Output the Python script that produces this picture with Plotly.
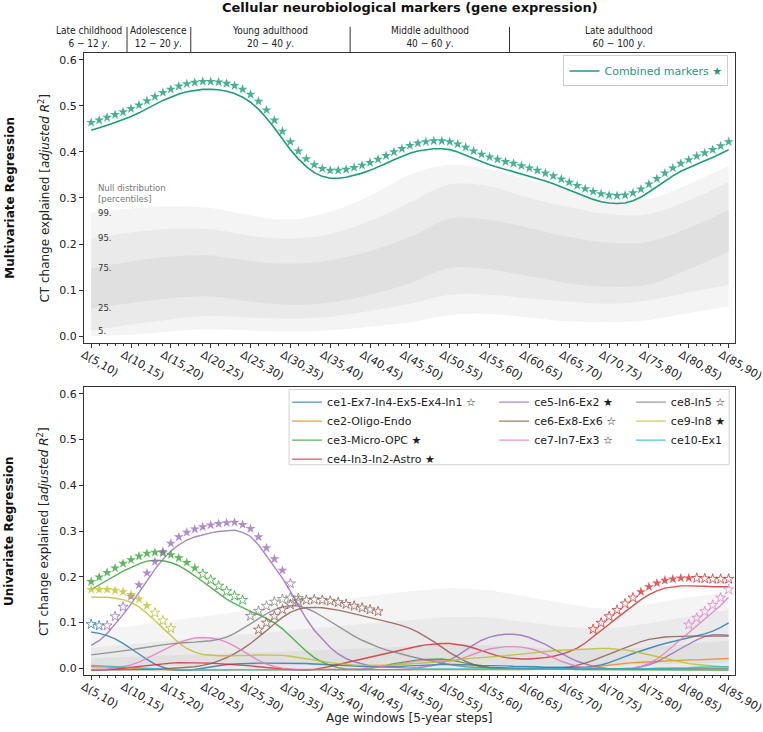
import plotly.graph_objects as go

# ---------------- data ----------------
window_starts = [5, 10, 15, 20, 25, 30, 35, 40, 45, 50, 55, 60, 65, 70, 75, 80, 85]
window_labels = [f"Δ({a},{a + 5})" for a in window_starts]
age_steps = list(range(81))          # 1-year steps, step 0 = Δ(5,10)
band_steps = list(range(0, 81, 5))   # null distribution sampled at window ticks

period_names = ["Late childhood", "Adolescence", "Young adulthood", "Middle adulthood", "Late adulthood"]
period_ages = ["6 − 12", "12 − 20", "20 − 40", "40 − 60", "60 − 100"]
period_edges_age = [12, 20, 40, 60]

combined = [0.447, 0.452, 0.458, 0.464, 0.470, 0.477, 0.485, 0.494, 0.503, 0.512,
            0.519, 0.526, 0.531, 0.534, 0.536, 0.536, 0.535, 0.532, 0.527, 0.519,
            0.508, 0.493, 0.474, 0.452, 0.428, 0.405, 0.385, 0.368, 0.355, 0.347,
            0.343, 0.343, 0.345, 0.349, 0.354, 0.360, 0.367, 0.375, 0.383, 0.390,
            0.397, 0.402, 0.405, 0.407, 0.407, 0.405, 0.400, 0.393, 0.385, 0.378,
            0.372, 0.367, 0.362, 0.358, 0.353, 0.348, 0.343, 0.337, 0.331, 0.324,
            0.317, 0.310, 0.303, 0.297, 0.292, 0.289, 0.288, 0.289, 0.294, 0.302,
            0.313, 0.325, 0.337, 0.348, 0.358, 0.366, 0.374, 0.381, 0.388, 0.396, 0.405]

# null distribution percentiles (multivariate)
top_p0 = [0.000, 0.003, 0.010, 0.015, 0.012, 0.010, 0.012, 0.020, 0.030, 0.045, 0.048, 0.040, 0.032, 0.030, 0.035, 0.050, 0.064]
top_p5 = [0.012, 0.025, 0.036, 0.044, 0.040, 0.038, 0.042, 0.055, 0.070, 0.090, 0.090, 0.082, 0.075, 0.070, 0.078, 0.095, 0.111]
top_p25 = [0.060, 0.072, 0.082, 0.086, 0.075, 0.068, 0.073, 0.090, 0.115, 0.148, 0.145, 0.130, 0.115, 0.107, 0.112, 0.145, 0.183]
top_p75 = [0.147, 0.162, 0.173, 0.175, 0.163, 0.157, 0.165, 0.185, 0.215, 0.255, 0.252, 0.235, 0.215, 0.203, 0.205, 0.235, 0.274]
top_p95 = [0.212, 0.225, 0.233, 0.232, 0.218, 0.212, 0.222, 0.250, 0.290, 0.330, 0.325, 0.300, 0.280, 0.265, 0.265, 0.295, 0.335]
top_p99 = [0.268, 0.277, 0.282, 0.278, 0.262, 0.253, 0.270, 0.305, 0.350, 0.372, 0.362, 0.340, 0.318, 0.300, 0.298, 0.330, 0.370]
percentile_labels = ["99.", "95.", "75.", "25.", "5."]

# null distribution percentiles (univariate)
bot_p0 = [-0.006] * 17
bot_p5 = [-0.003, -0.003, -0.003, -0.002, -0.002, -0.002, -0.002, -0.002, -0.001, -0.001, -0.001, -0.002, -0.002, -0.002, -0.001, 0.000, 0.001]
bot_p25 = [0.004, 0.004, 0.005, 0.005, 0.005, 0.006, 0.006, 0.007, 0.008, 0.009, 0.008, 0.007, 0.006, 0.006, 0.008, 0.010, 0.012]
bot_p75 = [0.022, 0.025, 0.028, 0.031, 0.034, 0.037, 0.040, 0.044, 0.048, 0.052, 0.050, 0.045, 0.040, 0.040, 0.046, 0.053, 0.060]
bot_p95 = [0.045, 0.052, 0.060, 0.068, 0.075, 0.083, 0.090, 0.098, 0.105, 0.112, 0.110, 0.100, 0.090, 0.087, 0.098, 0.113, 0.128]
bot_p99 = [0.080, 0.092, 0.104, 0.115, 0.127, 0.137, 0.147, 0.158, 0.168, 0.175, 0.170, 0.155, 0.140, 0.130, 0.140, 0.155, 0.165]

ce1 = [0.079, 0.076, 0.071, 0.064, 0.054, 0.043, 0.031, 0.019, 0.009, 0.002, -0.003,
       -0.005, -0.005, -0.003, 0.000, 0.003, 0.006, 0.008, 0.009, 0.010, 0.011,
       0.011, 0.011, 0.011, 0.011, 0.011, 0.010, 0.010, 0.009, 0.008, 0.007,
       0.006, 0.005, 0.004, 0.003, 0.003, 0.003, 0.003, 0.003, 0.004, 0.005,
       0.006, 0.007, 0.008, 0.008, 0.008, 0.008, 0.007, 0.007, 0.006, 0.006,
       0.005, 0.005, 0.004, 0.004, 0.003, 0.003, 0.002, 0.002, 0.001, 0.001,
       0.001, 0.002, 0.004, 0.007, 0.012, 0.018, 0.025, 0.032, 0.038, 0.044,
       0.049, 0.054, 0.058, 0.062, 0.066, 0.070, 0.075, 0.081, 0.089, 0.099]
ce2 = [0.003, 0.003, 0.002, 0.002, 0.001, 0.000, -0.001, -0.002, -0.003, -0.004, -0.004,
       -0.004, -0.004, -0.004, -0.004, -0.004, -0.004, -0.004, -0.004, -0.004, -0.004,
       -0.004, -0.004, -0.004, -0.004, -0.004, -0.004, -0.004, -0.004, -0.004, -0.004,
       -0.004, -0.004, -0.004, -0.004, -0.004, -0.004, -0.004, -0.004, -0.004, -0.004,
       -0.003, -0.003, -0.003, -0.003, -0.003, -0.003, -0.003, -0.003, -0.003, -0.003,
       -0.003, -0.003, -0.003, -0.003, -0.003, -0.002, -0.002, -0.002, -0.002, -0.002,
       -0.001, 0.001, 0.003, 0.005, 0.007, 0.009, 0.011, 0.012, 0.013, 0.014,
       0.015, 0.016, 0.017, 0.017, 0.018, 0.018, 0.019, 0.019, 0.020, 0.021]
ce3 = [0.172, 0.182, 0.192, 0.202, 0.212, 0.220, 0.228, 0.234, 0.236, 0.235, 0.231,
       0.224, 0.214, 0.202, 0.189, 0.176, 0.163, 0.151, 0.141, 0.132, 0.124,
       0.117, 0.109, 0.099, 0.086, 0.070, 0.053, 0.037, 0.023, 0.013, 0.006,
       0.001, -0.002, -0.003, -0.003, -0.001, 0.002, 0.006, 0.010, 0.013, 0.016,
       0.018, 0.019, 0.020, 0.020, 0.018, 0.015, 0.011, 0.007, 0.004, 0.002,
       0.001, 0.000, 0.000, -0.001, -0.001, -0.001, -0.002, -0.002, -0.002, -0.002,
       -0.003, -0.003, -0.003, -0.003, -0.003, -0.003, -0.003, -0.003, -0.003, -0.003,
       -0.003, -0.003, -0.004, -0.004, -0.004, -0.004, -0.004, -0.004, -0.004, -0.004]
ce4 = [-0.004, -0.004, -0.003, -0.002, 0.000, 0.002, 0.004, 0.006, 0.008, 0.010, 0.011,
       0.012, 0.012, 0.012, 0.012, 0.011, 0.010, 0.009, 0.008, 0.007, 0.005,
       0.003, 0.001, 0.000, -0.002, -0.003, -0.004, -0.004, -0.003, 0.000, 0.004,
       0.008, 0.012, 0.017, 0.021, 0.025, 0.029, 0.032, 0.036, 0.040, 0.044,
       0.048, 0.051, 0.053, 0.054, 0.054, 0.052, 0.049, 0.044, 0.038, 0.032,
       0.027, 0.023, 0.021, 0.020, 0.020, 0.021, 0.023, 0.026, 0.030, 0.036,
       0.044, 0.055, 0.068, 0.082, 0.096, 0.110, 0.124, 0.137, 0.150, 0.161,
       0.169, 0.175, 0.178, 0.180, 0.180, 0.180, 0.179, 0.178, 0.178, 0.178]
ce5 = [0.050, 0.060, 0.076, 0.096, 0.117, 0.140, 0.165, 0.191, 0.216, 0.238, 0.256,
       0.270, 0.280, 0.287, 0.292, 0.296, 0.299, 0.301, 0.302, 0.297, 0.288,
       0.270, 0.246, 0.222, 0.197, 0.168, 0.138, 0.108, 0.083, 0.063, 0.045,
       0.031, 0.021, 0.014, 0.009, 0.005, 0.003, 0.002, 0.001, 0.000, 0.000,
       0.001, 0.003, 0.006, 0.011, 0.018, 0.028, 0.040, 0.051, 0.061, 0.068,
       0.072, 0.074, 0.074, 0.072, 0.067, 0.060, 0.052, 0.042, 0.032, 0.023,
       0.015, 0.009, 0.004, 0.001, -0.001, -0.001, -0.001, 0.000, 0.003, 0.007,
       0.014, 0.023, 0.033, 0.043, 0.053, 0.062, 0.069, 0.073, 0.073, 0.072]
ce6 = [-0.004, -0.004, -0.004, -0.004, -0.004, -0.004, -0.004, -0.003, -0.003, -0.002, -0.001,
       0.000, 0.001, 0.003, 0.006, 0.010, 0.016, 0.023, 0.032, 0.042, 0.054,
       0.067, 0.082, 0.097, 0.111, 0.122, 0.129, 0.132, 0.133, 0.132, 0.130,
       0.127, 0.123, 0.119, 0.115, 0.111, 0.107, 0.103, 0.098, 0.093, 0.087,
       0.079, 0.069, 0.058, 0.046, 0.034, 0.024, 0.015, 0.008, 0.003, 0.001,
       0.000, 0.000, 0.000, 0.000, 0.000, 0.000, 0.000, 0.000, 0.000, 0.002,
       0.006, 0.011, 0.017, 0.024, 0.031, 0.038, 0.045, 0.052, 0.058, 0.063,
       0.066, 0.068, 0.069, 0.070, 0.070, 0.070, 0.070, 0.070, 0.070, 0.070]
ce7 = [-0.003, -0.003, -0.002, 0.000, 0.003, 0.007, 0.013, 0.021, 0.030, 0.039, 0.048,
       0.056, 0.062, 0.066, 0.067, 0.066, 0.063, 0.057, 0.048, 0.038, 0.027,
       0.017, 0.009, 0.003, 0.000, -0.002, -0.003, -0.003, -0.003, -0.003, -0.003,
       -0.003, -0.003, -0.002, -0.001, 0.000, 0.002, 0.005, 0.008, 0.011, 0.014,
       0.016, 0.017, 0.017, 0.016, 0.015, 0.018, 0.024, 0.031, 0.037, 0.042,
       0.045, 0.047, 0.047, 0.046, 0.043, 0.038, 0.031, 0.023, 0.015, 0.009,
       0.004, 0.001, -0.001, -0.002, -0.002, -0.002, -0.001, 0.000, 0.004, 0.010,
       0.020, 0.033, 0.048, 0.063, 0.078, 0.093, 0.107, 0.121, 0.137, 0.155]
ce8 = [0.029, 0.031, 0.033, 0.035, 0.037, 0.040, 0.043, 0.046, 0.049, 0.051, 0.053,
       0.055, 0.056, 0.057, 0.058, 0.060, 0.063, 0.068, 0.076, 0.086, 0.097,
       0.108, 0.119, 0.128, 0.134, 0.137, 0.136, 0.131, 0.123, 0.113, 0.102,
       0.091, 0.080, 0.070, 0.061, 0.053, 0.046, 0.040, 0.035, 0.030, 0.026,
       0.022, 0.018, 0.014, 0.011, 0.008, 0.005, 0.003, 0.002, 0.001, 0.000,
       0.000, -0.001, -0.001, -0.001, -0.001, -0.001, -0.001, -0.001, -0.001, -0.001,
       -0.001, -0.001, -0.001, -0.001, -0.001, -0.001, -0.001, -0.001, -0.001, -0.001,
       -0.001, -0.001, -0.001, -0.001, -0.001, -0.001, -0.001, -0.001, -0.001, -0.001]
ce9 = [0.155, 0.155, 0.155, 0.153, 0.150, 0.144, 0.134, 0.120, 0.104, 0.087, 0.070,
       0.055, 0.043, 0.035, 0.030, 0.028, 0.027, 0.027, 0.027, 0.028, 0.028,
       0.029, 0.029, 0.029, 0.028, 0.026, 0.023, 0.020, 0.017, 0.014, 0.012,
       0.010, 0.008, 0.007, 0.006, 0.006, 0.006, 0.006, 0.007, 0.008, 0.009,
       0.010, 0.011, 0.013, 0.015, 0.017, 0.019, 0.020, 0.022, 0.023, 0.024,
       0.026, 0.027, 0.029, 0.031, 0.033, 0.035, 0.037, 0.038, 0.039, 0.040,
       0.041, 0.042, 0.043, 0.043, 0.043, 0.042, 0.040, 0.037, 0.033, 0.029,
       0.025, 0.021, 0.017, 0.013, 0.010, 0.008, 0.006, 0.004, 0.003, 0.003]
ce10 = [0.006, 0.005, 0.004, 0.003, 0.002, 0.001, 0.000, -0.001, -0.002, -0.003, -0.004,
        -0.004, -0.004, -0.004, -0.004, -0.004, -0.004, -0.004, -0.004, -0.004, -0.004,
        -0.004, -0.004, -0.004, -0.004, -0.004, -0.004, -0.004, -0.004, -0.004, -0.004,
        -0.003, -0.003, -0.003, -0.003, -0.003, -0.003, -0.003, -0.003, -0.003, -0.003,
        -0.002, -0.002, -0.002, -0.002, -0.002, -0.002, -0.002, -0.002, -0.002, -0.002,
        -0.002, -0.002, -0.002, -0.002, -0.002, -0.002, -0.002, -0.002, -0.002, -0.002,
        -0.001, -0.001, -0.001, -0.001, -0.001, -0.001, -0.001, -0.001, -0.001, -0.001,
        0.000, 0.000, 0.001, 0.001, 0.001, 0.002, 0.002, 0.002, 0.003, 0.003]

series_values = [ce1, ce2, ce3, ce4, ce5, ce6, ce7, ce8, ce9, ce10]
series_names = ["ce1-Ex7-In4-Ex5-Ex4-In1 ☆", "ce2-Oligo-Endo", "ce3-Micro-OPC ★", "ce4-In3-In2-Astro ★",
                "ce5-In6-Ex2 ★", "ce6-Ex8-Ex6 ☆", "ce7-In7-Ex3 ☆",
                "ce8-In5 ☆", "ce9-In8 ★", "ce10-Ex1"]
series_colors = ["#1f77b4", "#ff7f0e", "#2ca02c", "#d62728", "#9467bd",
                 "#8c564b", "#e377c2", "#7f7f7f", "#bcbd22", "#17becf"]
# significance stars: ranges of age steps (inclusive)
stars_filled = [[], [], [(0, 13)], [(69, 75)], [(5, 24)], [], [], [], [(0, 7)], []]
stars_open = [[(0, 1)], [], [(14, 19)], [(63, 68), (76, 80)], [(2, 4), (25, 25)],
              [(21, 36)], [(75, 80)], [(20, 26)], [(8, 10)], []]
legend_columns = [0, 0, 0, 0, 1, 1, 1, 2, 2, 2]

TEAL = "#1b9e77"
STAR_OFFSET = 0.017
STAR_SIZE = 7.5
FONT = "DejaVu Sans"

# ---------------- figure ----------------
fig = go.Figure()


def add_bands(xa, ya, p0, p5, p25, p75, p95, p99):
    shades = ["#f4f4f4", "#eaeaea", "#e0e0e0"]
    pairs = [(p0, p99), (p5, p95), (p25, p75)]
    for (lo, hi), col in zip(pairs, shades):
        fig.add_trace(go.Scatter(x=band_steps, y=lo, mode="lines", line=dict(width=0, shape="spline"),
                                 xaxis=xa, yaxis=ya, showlegend=False, hoverinfo="skip"))
        fig.add_trace(go.Scatter(x=band_steps, y=hi, mode="lines", line=dict(width=0, shape="spline"),
                                 fill="tonexty", fillcolor=col, xaxis=xa, yaxis=ya,
                                 showlegend=False, hoverinfo="skip"))


add_bands("x", "y", top_p0, top_p5, top_p25, top_p75, top_p95, top_p99)
add_bands("x2", "y2", bot_p0, bot_p5, bot_p25, bot_p75, bot_p95, bot_p99)

# multivariate
fig.add_trace(go.Scatter(x=age_steps, y=combined, mode="lines", line=dict(color=TEAL, width=1.6),
                         name="Combined markers ★", xaxis="x", yaxis="y", legend="legend"))
fig.add_trace(go.Scatter(x=age_steps, y=[v + STAR_OFFSET for v in combined], mode="markers",
                         marker=dict(symbol="star", size=STAR_SIZE, color=TEAL, opacity=0.8, line=dict(width=0)),
                         xaxis="x", yaxis="y", showlegend=False))

# univariate lines
legend_ids = ["legend2", "legend3", "legend4"]
for vals, name, col, leg in zip(series_values, series_names, series_colors, legend_columns):
    fig.add_trace(go.Scatter(x=age_steps, y=vals, mode="lines", line=dict(color=col, width=1.4),
                             opacity=0.8, name=name, xaxis="x2", yaxis="y2", legend=legend_ids[leg]))

for vals, col, filled, opened in zip(series_values, series_colors, stars_filled, stars_open):
    for ranges, sym in ((filled, "star"), (opened, "star-open")):
        xs, ys = [], []
        for a, b in ranges:
            for k in range(a, b + 1):
                xs.append(age_steps[k])
                ys.append(vals[k] + STAR_OFFSET)
        if xs:
            fig.add_trace(go.Scatter(x=xs, y=ys, mode="markers",
                                     marker=dict(symbol=sym, size=STAR_SIZE, color=col, opacity=0.75,
                                                 line=dict(color=col, width=1 if sym == "star-open" else 0)),
                                     xaxis="x2", yaxis="y2", showlegend=False))

# ---------------- axes ----------------
axis_common = dict(showline=True, linecolor="#333", linewidth=1, mirror=True, showgrid=False,
                   zeroline=False, ticks="outside", tickcolor="#333", ticklen=4, automargin=False,
                   tickfont=dict(family=FONT, size=11, color="#222"))
xcommon = dict(axis_common, range=[-0.9, 80.8], tickmode="array", tickvals=band_steps,
               ticktext=window_labels, tickangle=30, ticklabelstandoff=-4, ticklabelshift=-8,
               ticklabeloverflow="allow",
               minor=dict(tickmode="linear", tick0=0, dtick=1, ticks="outside", ticklen=2, tickcolor="#333"))
ycommon = dict(axis_common, range=[-0.015, 0.615], tickmode="array",
               tickvals=[0, 0.1, 0.2, 0.3, 0.4, 0.5, 0.6], tickformat=".1f")

fig.update_layout(
    xaxis=dict(xcommon, domain=[0, 1], anchor="y"),
    yaxis=dict(ycommon, domain=[0.5338, 1.0], anchor="x"),
    xaxis2=dict(xcommon, domain=[0, 1], anchor="y2"),
    yaxis2=dict(ycommon, domain=[0.0, 0.463], anchor="x2"),
)

# ---------------- annotations ----------------
ann = []
ann.append(dict(text="<b>Cellular neurobiological markers (gene expression)</b>", xref="paper", yref="paper",
                x=0.5, y=1.0725, xanchor="center", yanchor="middle", showarrow=False,
                font=dict(family=FONT, size=13, color="#111")))
label_x = [-0.25, 8.5, 22.5, 42.5, 66.2]
for nm, ag, lx in zip(period_names, period_ages, label_x):
    ann.append(dict(text=f"{nm}<br>{ag} <i>y</i>.", xref="x", yref="paper", x=lx, y=1.003,
                    xanchor="center", yanchor="bottom", showarrow=False,
                    font=dict(family="DejaVu Sans Condensed, DejaVu Sans", size=10, color="#222")))
shapes = []
for age in period_edges_age:
    xe = age - 7.5
    shapes.append(dict(type="line", xref="x", yref="paper", x0=xe, x1=xe, y0=1.0, y1=1.042,
                       line=dict(color="#333", width=1)))

ann.append(dict(text="Null distribution<br>[percentiles]", xref="x", yref="y", x=0.6, y=0.31,
                xanchor="left", yanchor="middle", align="left", showarrow=False,
                font=dict(family=FONT, size=8.5, color="#777")))
for lab, arr in zip(percentile_labels, [top_p99, top_p95, top_p75, top_p25, top_p5]):
    ann.append(dict(text=lab, xref="x", yref="y", x=0.6, y=arr[0], xanchor="left", yanchor="middle",
                    showarrow=False, font=dict(family=FONT, size=8.5, color="#333")))

for txt, yc in (("<b>Multivariate Regression</b>", 0.767), ("<b>Univariate Regression</b>", 0.231)):
    ann.append(dict(text=txt, xref="paper", yref="paper", x=-0.114, y=yc, textangle=-90,
                    xanchor="center", yanchor="middle",
                    showarrow=False, font=dict(family=FONT, size=12, color="#111")))
for yc in (0.767, 0.231):
    ann.append(dict(text="CT change explained [<i>adjusted R</i><sup>2</sup>]", xref="paper", yref="paper",
                    x=-0.062, y=yc, textangle=-90, xanchor="center", yanchor="middle", showarrow=False,
                    font=dict(family=FONT, size=12, color="#222")))
ann.append(dict(text="Age windows [5-year steps]", xref="paper", yref="paper", x=0.5, y=-0.069,
                xanchor="center", yanchor="middle",
                showarrow=False, font=dict(family=FONT, size=12, color="#222")))

# legend frame for univariate legend
shapes.append(dict(type="rect", xref="paper", yref="paper", x0=0.315, x1=0.991, y0=0.338, y1=0.459,
                   line=dict(color="#d0d0d0", width=1), fillcolor="rgba(255,255,255,0.8)", layer="below"))

leg_font = dict(family=FONT, size=11, color="#222")
fig.update_layout(
    width=763, height=732,
    margin=dict(l=84, r=28, t=53, b=57, autoexpand=False),
    paper_bgcolor="white", plot_bgcolor="rgba(0,0,0,0)",
    annotations=ann, shapes=shapes,
    legend=dict(x=0.99, y=0.996, xanchor="right", yanchor="top", bgcolor="rgba(255,255,255,0.8)",
                bordercolor="#cccccc", borderwidth=1, font=dict(family=FONT, size=11, color=TEAL)),
    legend2=dict(x=0.312, y=0.462, xanchor="left", yanchor="top", bgcolor="rgba(0,0,0,0)",
                 font=leg_font, tracegroupgap=0),
    legend3=dict(x=0.630, y=0.462, xanchor="left", yanchor="top", bgcolor="rgba(0,0,0,0)",
                 font=leg_font, tracegroupgap=0),
    legend4=dict(x=0.840, y=0.462, xanchor="left", yanchor="top", bgcolor="rgba(0,0,0,0)",
                 font=leg_font, tracegroupgap=0),
    font=dict(family=FONT),
)

fig.write_html("out.html", config={"displayModeBar": False},
               post_script="document.body.style.margin='0px';")
